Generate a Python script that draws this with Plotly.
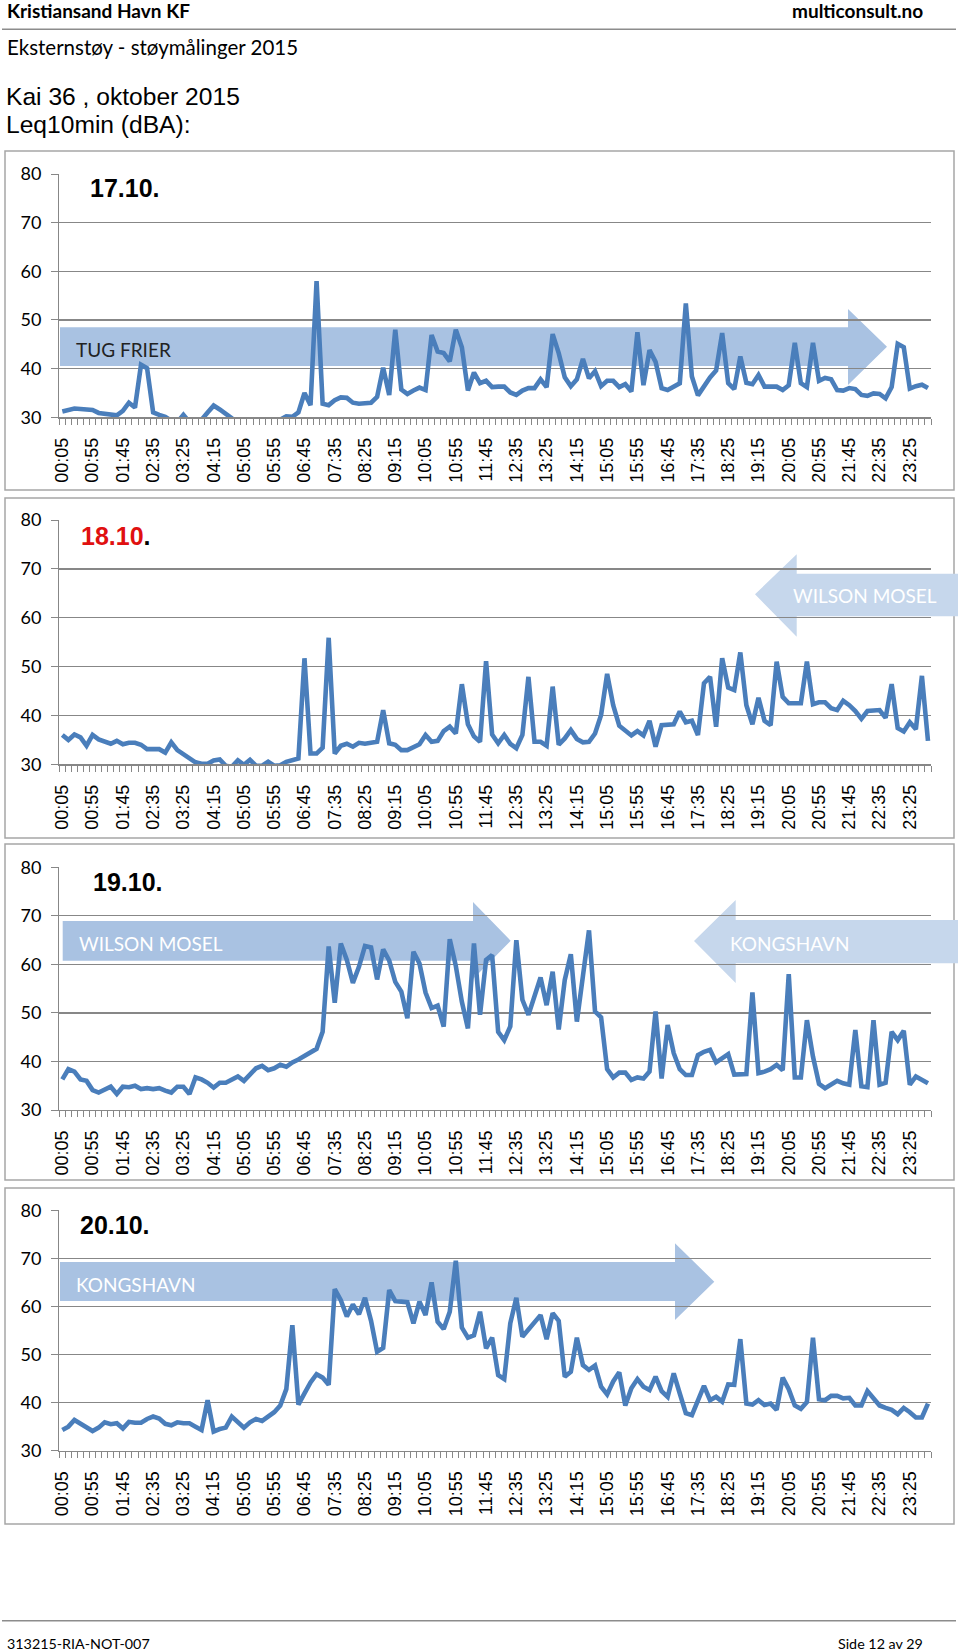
import plotly.graph_objects as go

# ---------------- data ----------------
TIMES = [f"{(5 + 10 * k) // 60:02d}:{(5 + 10 * k) % 60:02d}" for k in range(144)]
TICK_LABELS = ["00:05", "00:55", "01:45", "02:35", "03:25", "04:15", "05:05", "05:55",
               "06:45", "07:35", "08:25", "09:15", "10:05", "10:55", "11:45", "12:35",
               "13:25", "14:15", "15:05", "15:55", "16:45", "17:35", "18:25", "19:15",
               "20:05", "20:55", "21:45", "22:35", "23:25"]

DAY_17 = [
    31.2, 31.6, 31.8, 31.7, 31.6, 31.5, 30.9, 30.8, 30.5, 30.4,
    31.3, 33.0, 32.0, 40.8, 40.1, 31.0, 30.5, 30.1, 29.3, 29.0,
    30.5, 29.0, 28.8, 29.5, 31.0, 32.4, 31.6, 30.8, 29.8, 28.5,
    28.5, 28.5, 28.5, 28.5, 28.5, 28.5, 29.5, 30.2, 30.1, 31.0,
    35.0, 32.5, 58.0, 32.8, 32.5, 33.5, 34.1, 34.0, 33.0, 32.8,
    32.9, 33.0, 34.2, 40.2, 34.6, 48.0, 35.7, 34.8, 35.5, 36.1,
    35.6, 46.9, 43.5, 43.2, 41.5, 48.0, 44.4, 35.5, 39.2, 37.0,
    37.5, 36.2, 36.3, 36.3, 35.1, 34.6, 35.5, 36.0, 36.0, 37.8,
    36.2, 47.1, 43.2, 38.2, 36.4, 37.8, 42.0, 38.0, 39.5, 36.4,
    37.5, 37.5, 36.2, 36.8, 35.3, 47.5, 36.6, 43.8, 41.4, 36.0,
    35.6, 36.3, 37.0, 53.4, 38.4, 34.5, 36.5, 38.2, 39.6, 47.3,
    37.0, 35.8, 42.5, 37.1, 36.8, 38.7, 36.3, 36.3, 36.3, 35.6,
    36.6, 45.3, 37.0, 36.2, 45.3, 37.5, 38.1, 37.8, 35.6, 35.5,
    36.0, 35.8, 34.6, 34.4, 34.9, 34.8, 33.9, 36.2, 45.1, 44.4,
    35.9, 36.4, 36.7, 36.0]

DAY_18 = [
    36.0, 35.0, 36.1, 35.5, 33.8, 36.0, 35.1, 34.6, 34.2, 34.8,
    34.1, 34.4, 34.4, 34.0, 33.1, 33.1, 33.1, 32.4, 34.5, 32.9,
    32.0, 31.2, 30.4, 30.1, 30.1, 30.8, 31.0, 29.7, 29.5, 30.8,
    29.9, 30.9, 29.7, 29.7, 30.5, 29.7, 29.8, 30.5, 30.8, 31.2,
    51.7, 32.2, 32.2, 33.4, 55.9, 32.2, 33.8, 34.2, 33.6, 34.4,
    34.2, 34.3, 34.6, 41.1, 34.3, 34.0, 32.9, 32.9, 33.6, 34.1,
    36.0, 34.6, 34.8, 36.8, 37.7, 36.3, 46.4, 38.2, 35.7, 34.6,
    51.1, 36.1, 34.3, 36.0, 34.2, 33.3, 36.0, 47.9, 34.6, 34.6,
    33.8, 45.9, 34.0, 35.3, 37.0, 35.2, 34.5, 34.6, 36.3, 40.1,
    48.5, 42.1, 37.9, 37.0, 35.9, 36.8, 35.9, 38.9, 33.6, 38.0,
    38.2, 38.2, 40.8, 38.6, 38.9, 36.0, 46.6, 47.9, 37.7, 51.7,
    45.7, 45.2, 52.9, 42.1, 38.2, 43.6, 38.9, 38.0, 51.0, 43.8,
    42.5, 42.5, 42.5, 51.0, 42.3, 42.7, 42.7, 41.5, 41.1, 43.0,
    42.1, 40.9, 39.3, 40.9, 40.9, 41.1, 39.5, 46.4, 37.4, 36.7,
    38.6, 37.2, 48.1, 34.8]

DAY_19 = [
    36.3, 38.4, 37.9, 36.3, 36.0, 34.1, 33.6, 34.1, 34.8, 33.3,
    34.8, 34.7, 35.0, 34.3, 34.5, 34.3, 34.5, 34.0, 33.6, 34.8,
    34.8, 33.3, 36.7, 36.3, 35.6, 34.6, 35.6, 35.6, 36.3, 36.9,
    36.0, 37.2, 38.6, 39.1, 38.2, 38.6, 39.3, 38.9, 39.8, 40.4,
    41.1, 41.7, 42.6, 46.1, 63.7, 52.1, 64.3, 60.9, 56.2, 59.5,
    63.8, 63.5, 56.9, 63.1, 60.8, 56.4, 54.4, 48.9, 62.6, 60.2,
    54.2, 51.0, 51.5, 47.2, 65.2, 59.7, 52.3, 46.8, 64.3, 49.6,
    60.9, 61.9, 46.1, 44.4, 47.2, 65.0, 52.7, 49.6, 53.5, 57.3,
    51.6, 58.5, 46.6, 56.8, 62.1, 48.2, 57.6, 67.0, 50.3, 49.1,
    38.4, 36.7, 37.7, 37.7, 36.2, 36.7, 36.5, 37.9, 50.3, 36.5,
    47.5, 41.7, 38.4, 37.2, 37.2, 41.3, 42.0, 42.4, 39.8, 40.6,
    41.5, 37.3, 37.3, 37.4, 54.2, 37.6, 37.9, 38.4, 39.3, 38.2,
    58.0, 36.7, 36.7, 48.5, 41.0, 35.4, 34.5, 35.2, 36.0, 35.5,
    35.2, 46.5, 34.9, 34.7, 48.5, 35.2, 35.6, 46.1, 44.4, 46.3,
    35.2, 36.9, 36.3, 35.5]

DAY_20 = [
    34.3, 35.0, 36.4, 35.7, 35.0, 34.1, 34.8, 35.9, 35.5, 35.7,
    34.6, 36.0, 35.8, 35.8, 36.6, 37.1, 36.7, 35.6, 35.3, 35.9,
    35.7, 35.7, 35.0, 34.3, 40.5, 34.0, 34.5, 34.8, 37.1, 35.9,
    34.8, 35.9, 36.6, 36.2, 37.1, 38.0, 39.4, 42.8, 56.1, 39.6,
    41.9, 44.2, 45.9, 45.2, 43.7, 63.6, 61.3, 57.9, 60.4, 58.4,
    61.8, 57.0, 50.6, 51.4, 63.4, 61.1, 61.0, 60.9, 56.5, 61.0,
    58.2, 65.0, 56.8, 55.3, 58.9, 69.5, 55.6, 53.5, 54.0, 58.9,
    51.3, 53.5, 45.7, 44.9, 56.5, 61.8, 53.7, 55.1, 56.7, 58.2,
    53.2, 58.6, 57.0, 45.4, 46.4, 53.5, 47.8, 46.8, 47.7, 43.3,
    41.7, 44.4, 46.3, 39.4, 43.0, 44.9, 43.3, 42.6, 45.4, 42.4,
    41.2, 46.1, 41.9, 37.8, 37.4, 40.5, 43.5, 40.5, 41.2, 40.2,
    43.8, 43.7, 53.2, 39.8, 39.6, 40.5, 39.5, 39.8, 38.5, 45.2,
    42.8, 39.4, 38.7, 40.1, 53.5, 40.7, 40.5, 41.4, 41.4, 40.9,
    41.0, 39.4, 39.4, 42.4, 40.9, 39.4, 38.9, 38.5, 37.6, 38.9,
    38.0, 36.9, 36.9, 39.8]

DAYS = [DAY_17, DAY_18, DAY_19, DAY_20]
Y_TICKS = [30, 40, 50, 60, 70, 80]

# ---------------- layout helpers ----------------
W, H = 960, 1651
def px(x):
    return x / W
def py(y):
    return 1 - y / H

GRID = "#878787"
LINE = "#4a7ebb"
DARK_ARROW = "#a9c2e2"
LIGHT_ARROW = "#c6d7ec"

PLOT_Y = [(174, 417.3), (520, 764.3), (867.3, 1110), (1210.3, 1450.7)]
PLOT_X = (59.3, 931)
BOXES = [(151, 490), (498, 838), (844, 1180), (1188, 1524)]

x_idx = list(range(len(TIMES)))
tickvals = [TIMES.index(t) for t in TICK_LABELS]

fig = go.Figure()
layout = dict(
    width=W, height=H, margin=dict(l=0, r=0, t=0, b=0, pad=0),
    paper_bgcolor="white", plot_bgcolor="rgba(0,0,0,0)", showlegend=False,
)

for k, vals in enumerate(DAYS):
    n = "" if k == 0 else str(k + 1)
    fig.add_trace(go.Scatter(x=x_idx, y=vals, mode="lines",
                             line=dict(color=LINE, width=4.6),
                             xaxis="x" + n, yaxis="y" + n, hoverinfo="skip"))
    top, bot = PLOT_Y[k]
    layout["xaxis" + n] = dict(
        domain=[px(PLOT_X[0]), px(PLOT_X[1])], anchor="y" + n,
        range=[-0.5, 143.5], showgrid=False, zeroline=False,
        showline=True, linecolor=GRID, linewidth=1.3,
        tickmode="array", tickvals=tickvals, ticktext=TICK_LABELS,
        tickangle=-90, ticks="",
        tickfont=dict(family="Arial", size=18, color="black"),
        ticklabelstandoff=12, automargin=False,
        minor=dict(tickmode="array", tickvals=[i - 0.5 for i in range(145)],
                   ticks="outside", ticklen=6, tickcolor=GRID, tickwidth=1,
                   showgrid=False),
    )
    layout["yaxis" + n] = dict(
        domain=[py(bot), py(top)], anchor="x" + n,
        range=[30, 80], tickmode="array", tickvals=Y_TICKS,
        showgrid=True, gridcolor=GRID, gridwidth=1.3, zeroline=False,
        showline=True, linecolor=GRID, linewidth=1.3,
        ticks="outside", ticklen=7, tickcolor=GRID,
        tickfont=dict(family="Lato", size=18, color="black"),
        ticklabelstandoff=6, automargin=False,
    )

shapes = []
for (t, b) in BOXES:
    shapes.append(dict(type="rect", xref="paper", yref="paper", layer="below",
                       x0=px(5), x1=px(954), y0=py(b), y1=py(t),
                       line=dict(color="#a6a6a6", width=1.5), fillcolor="rgba(0,0,0,0)"))
for yy in (29.3, 1620.7):
    shapes.append(dict(type="line", xref="paper", yref="paper", layer="below",
                       x0=px(2), x1=px(956), y0=py(yy), y1=py(yy),
                       line=dict(color="#8c8c8c", width=1.5)))

def arrow_path(xa, xb, xt, yt, yb, ht, hb, ymid, color):
    pts = [(xa, yt), (xb, yt), (xb, ht), (xt, ymid), (xb, hb), (xb, yb), (xa, yb)]
    path = "M " + " L ".join(f"{px(a):.5f},{py(b):.5f}" for a, b in pts) + " Z"
    return dict(type="path", xref="paper", yref="paper", layer="below", path=path,
                fillcolor=color, line=dict(width=0))

shapes.append(arrow_path(60, 848, 887, 327.3, 366, 309, 385, 346.7, DARK_ARROW))
shapes.append(arrow_path(958, 796.7, 755, 573.7, 616.3, 554.3, 636.7, 594.3, LIGHT_ARROW))
shapes.append(arrow_path(62.7, 473, 510.7, 921, 960.7, 902, 979, 940.8, DARK_ARROW))
shapes.append(arrow_path(958, 735.7, 694, 920, 963.3, 900, 983, 941, LIGHT_ARROW))
shapes.append(arrow_path(60, 675, 714.3, 1262, 1301, 1243.3, 1320, 1281.7, DARK_ARROW))
layout["shapes"] = shapes

def ann(text, x, y, size, family="Lato", color="black", xanchor="left"):
    return dict(text=text, x=px(x), y=py(y), xref="paper", yref="paper",
                xanchor=xanchor, yanchor="middle", showarrow=False,
                font=dict(family=family, size=size, color=color))

annotations = [
    ann("<b>Kristiansand Havn KF</b>", 5, 11, 19),
    ann("<b>multiconsult.no</b>", 925, 11, 19, xanchor="right"),
    ann("Eksternstøy - støymålinger 2015", 5, 47, 20.5),
    ann("Kai 36 , oktober 2015", 4, 96.5, 24.6, family="Arial"),
    ann("Leq10min (dBA):", 4, 124, 24.6, family="Arial"),
    ann("313215-RIA-NOT-007", 5, 1643, 14.3),
    ann("Side 12 av 29", 925, 1643, 14.3, xanchor="right"),
    ann("<b>17.10.</b>", 88, 188, 25, family="Arial"),
    ann("<b><span style='color:#e01010'>18.10</span>.</b>", 79, 536, 25, family="Arial"),
    ann("<b>19.10.</b>", 91, 882, 25, family="Arial"),
    ann("<b>20.10.</b>", 78, 1225, 25, family="Arial"),
    ann("TUG FRIER", 74, 349, 19, color="#222222"),
    ann("WILSON MOSEL", 791, 595, 19, color="white"),
    ann("WILSON MOSEL", 77, 943, 19, color="white"),
    ann("KONGSHAVN", 728, 943, 19, color="white"),
    ann("KONGSHAVN", 74, 1284, 19, color="white"),
]
layout["annotations"] = annotations

fig.update_layout(**layout)
fig.write_html(
    "out.html",
    config={"displayModeBar": False, "staticPlot": True},
    post_script=("document.body.style.margin='0';document.body.style.padding='0';"
                 "document.documentElement.style.overflow='hidden';"
                 "document.body.style.overflow='hidden';"),
)
